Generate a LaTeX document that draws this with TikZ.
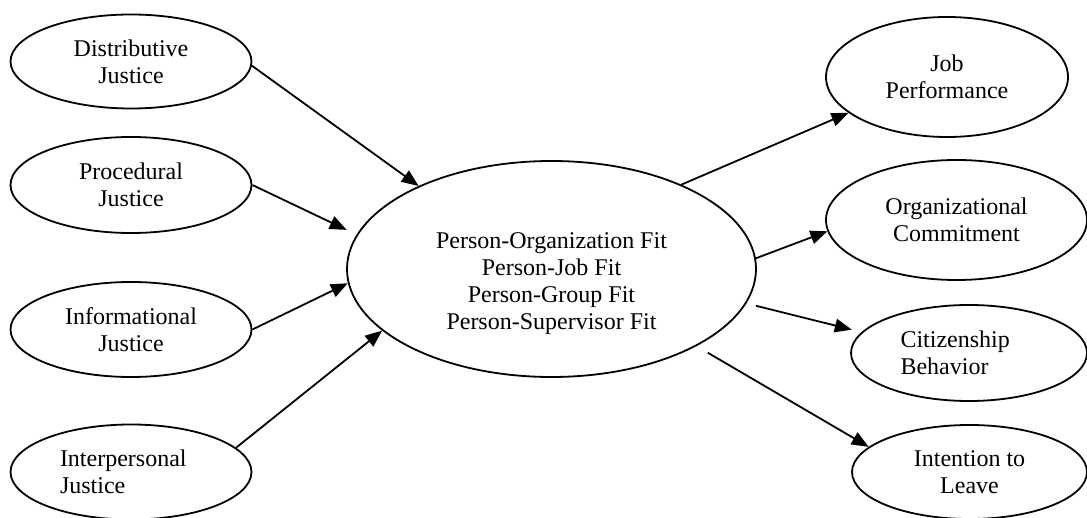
\documentclass[tikz,border=0pt]{standalone}
\usepackage{fontspec}
\setmainfont{Liberation Serif}
\usetikzlibrary{shapes.geometric, arrows.meta, positioning}

\begin{document}
\begin{tikzpicture}[
    x=0.5pt, y=-0.5pt,
    factor/.style={ellipse, draw, line width=0.9pt, inner sep=0pt, align=center, font=\fontsize{12pt}{13.5pt}\selectfont},
    arrow/.style={line width=0.9pt, -{Triangle[length=8.5pt, width=6.8pt]}}
]
\useasboundingbox (0,0) rectangle (1087,518);

% Justice dimensions
\node[factor, minimum width=120.5pt, minimum height=47pt] (distributive) at (131,61.5) {Distributive\\Justice};
\node[factor, minimum width=120.5pt, minimum height=48pt] (procedural) at (131,185) {Procedural\\Justice};
\node[factor, minimum width=120.5pt, minimum height=47.5pt] (informational) at (131,329.5) {Informational\\Justice};
\node[factor, minimum width=120.5pt, minimum height=47.5pt, text width=71pt, align=left] (interpersonal) at (131,472) {Interpersonal\\Justice};

% Fit
\node[factor, minimum width=204.5pt, minimum height=108pt] (pefit) at (551.5,269) {\strut\\Person-Organization Fit\\Person-Job Fit\\Person-Group Fit\\Person-Supervisor Fit};

% Outcomes
\node[factor, minimum width=121pt, minimum height=60pt] (performance) at (947,77) {Job\\Performance};
\node[factor, minimum width=130.5pt, minimum height=60pt] (commitment) at (956.5,220) {Organizational\\Commitment};
\node[factor, minimum width=118pt, minimum height=48pt, text width=68.5pt, align=left] (citizenship) at (969,353) {Citizenship\\Behavior};
\node[factor, minimum width=117.5pt, minimum height=47pt] (intention) at (969.5,472) {Intention to\\Leave};

% Justice to fit
\draw[arrow] (distributive.-2) -- (pefit.148);
\draw[arrow, shorten >=5.5pt] (procedural.east) -- (pefit.170);
\draw[arrow] (informational.east) -- (pefit.184);
\draw[arrow] (interpersonal.13) -- (pefit.200);

% Fit to outcomes
\draw[arrow] (pefit.33) -- (performance.200);
\draw[arrow] (pefit.3) -- (commitment.185);
\draw[arrow, shorten <=5pt, shorten >=5pt] (pefit.-10) -- (citizenship.169);
\draw[arrow, shorten <=6.5pt] (pefit.-28) -- (intention.166);

\end{tikzpicture}
\end{document}
